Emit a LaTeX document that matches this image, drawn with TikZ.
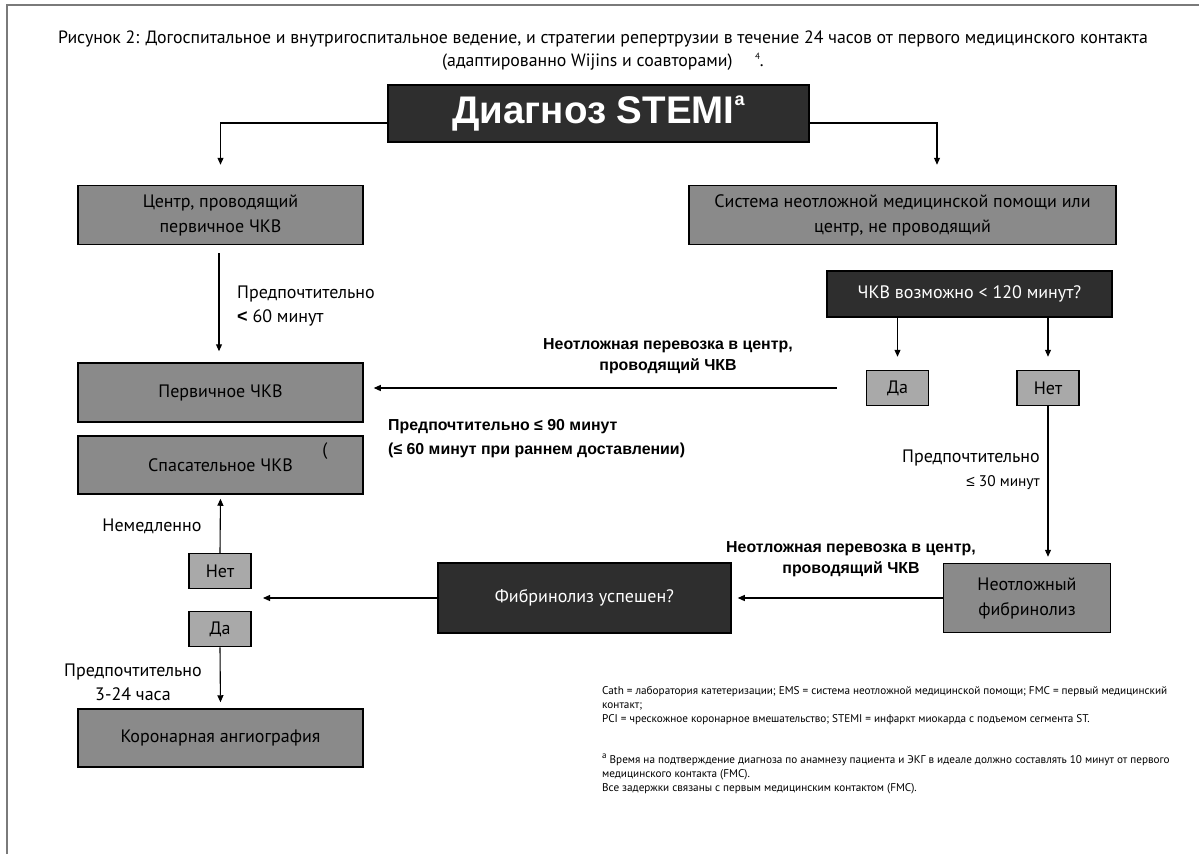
\documentclass[tikz,border=0pt]{standalone}
\usepackage{fontspec}
\setmainfont{PT Sans}
\newfontfamily\hb{Liberation Sans}
\usepackage{tikz}
\usetikzlibrary{positioning, arrows.meta}

\definecolor{boxgray}{HTML}{8A8A8A}
\definecolor{yesnogray}{HTML}{A9A9A9}
\definecolor{darkfill}{HTML}{2E2E2E}
\definecolor{framegray}{HTML}{7A7A7A}

\newcommand{\lesym}{{\hb ≤}}
\newcommand{\supa}[1]{\raisebox{0.75ex}{\fontsize{9}{9}\selectfont #1}}

\begin{document}
\begin{tikzpicture}[x=1pt, y=-1pt,
    box/.style={draw=black, line width=1.5pt, fill=boxgray, minimum width=285pt, minimum height=59pt, align=center, inner sep=2pt, font=\fontsize{18}{25}\selectfont},
    darkbox/.style={box, fill=darkfill, text=white},
    yesno/.style={box, fill=yesnogray, minimum width=62pt, minimum height=35pt},
    arr/.style={-{Triangle[length=7pt, width=6pt]}, line width=1.1pt},
    lbl/.style={inner sep=0pt, font=\fontsize{18}{24}\selectfont},
    blbl/.style={inner sep=0pt, font=\hb\bfseries\fontsize{15.9}{21}\selectfont},
    note/.style={inner sep=0pt, anchor=west, align=left, font=\fontsize{11.2}{14}\selectfont}]
    \useasboundingbox (0,0) rectangle (1199,854);
    % Frame
    \draw[framegray, line width=1.5pt] (7,854) -- (7,5) -- (1199,5);

    % Caption
    \node[lbl, font=\fontsize{17.8}{20}\selectfont] (cap1) at (603,39) {Рисунок 2: Догоспитальное и внутригоспитальное ведение, и стратегии репертрузии в течение 24 часов от первого медицинского контакта};
    \node[lbl, font=\fontsize{17.8}{20}\selectfont] (cap2) at (603,62) {(адаптированно Wijins и соавторами)\quad\ \supa{4}.};

    % Boxes
    \node[darkbox, minimum width=421pt, minimum height=57pt, font=\hb\bfseries\fontsize{38.5}{40}\selectfont] (diag) at (598.5,113.5) {Диагноз STEMI\raisebox{0.9ex}{\fontsize{18}{18}\selectfont a}};
    \node[box] (ctr) at (220.5,215) {Центр, проводящий\\первичное ЧКВ};
    \node[box, minimum width=427pt] (ems) at (902.5,215) {Система неотложной медицинской помощи или\\центр, не проводящий};
    \node[box] (prim) at (220.5,392.5) {Первичное ЧКВ};
    \node[box, minimum height=58pt] (resc) at (220.5,465) {Спасательное ЧКВ};
    \node[lbl] (paren) at (325,451) {(};
    \node[darkbox, minimum height=46pt] (q120) at (969.5,294) {ЧКВ возможно < 120 минут?};
    \node[yesno] (yes1) at (897.5,388) {Да};
    \node[yesno] (no1) at (1048,388) {Нет};
    \node[box, minimum width=167pt, minimum height=69pt] (fib) at (1027,598) {Неотложный\\фибринолиз};
    \node[darkbox, minimum width=293pt, minimum height=70pt] (fibq) at (584.5,598) {Фибринолиз успешен?};
    \node[yesno] (no2) at (220,571) {Нет};
    \node[yesno] (yes2) at (220,629) {Да};
    \node[box, minimum height=58pt] (cag) at (220.5,738) {Коронарная ангиография};
    \coordinate (fork) at (263,598);

    % Connectors
    \draw[arr, shorten >=20pt] ([yshift=-9.5pt]diag.west) -| (ctr.north);
    \draw[arr, shorten >=20pt] ([yshift=-9.5pt]diag.east) -| ([xshift=34.5pt]ems.north);
    \draw[arr, shorten <=8pt, shorten >=11pt] ([xshift=-1.5pt]ctr.south) -- ([xshift=-1.5pt]prim.north);
    \draw[arr, shorten >=13pt] (q120.south -| yes1.north) -- (yes1.north);
    \draw[arr, shorten >=13pt] (q120.south -| no1.north) -- (no1.north);
    \draw[arr, shorten <=29pt, shorten >=10pt] (yes1.west) -- (yes1.west -| prim.east);
    \draw[arr, shorten >=6pt] (no1.south) -- (no1.south |- fib.north);
    \draw[arr, shorten >=6pt] (fib.west) -- (fibq.east);
    \draw[arr] (fibq.west) -- (fork);
    \draw[arr, shorten >=4pt] (no2.north) -- (resc.south);
    \draw[arr, shorten >=6pt] (yes2.south) -- (cag.north);

    % Labels
    \node[lbl, anchor=west, align=left] (l60) at (237,306) {Предпочтительно\\{\hb\bfseries <} 60 минут};
    \node[blbl, align=center] (tr1) at (668,356) {Неотложная перевозка в центр,\\проводящий ЧКВ};
    \node[blbl, anchor=west, align=left, font=\hb\bfseries\fontsize{15.9}{24}\selectfont] (l90) at (388,439) {Предпочтительно ≤ 90 минут\\(≤ 60 минут при раннем доставлении)};
    \node[lbl, anchor=east, align=right] (l30) at (1040,470) {Предпочтительно\\{\fontsize{15.4}{24}\selectfont\lesym\ 30 минут}};
    \node[blbl, align=center] (tr2) at (851,559) {Неотложная перевозка в центр,\\проводящий ЧКВ};
    \node[lbl] (imm) at (152,526) {Немедленно};
    \node[lbl, align=center] (l324) at (133,682) {Предпочтительно\\3-24 часа};

    % Notes
    \node[note] (abbr) at (602,706) {Cath = лаборатория катетеризации; EMS = система неотложной медицинской помощи; FMC = первый медицинский\\контакт;\\PCI = чрескожное коронарное вмешательство; STEMI = инфаркт миокарда с подъемом сегмента ST.};
    \node[note] (foot) at (602,774) {\supa{a} Время на подтверждение диагноза по анамнезу пациента и ЭКГ в идеале должно составлять 10 минут от первого\\медицинского контакта (FMC).\\Все задержки связаны с первым медицинским контактом (FMC).};
\end{tikzpicture}
\end{document}
